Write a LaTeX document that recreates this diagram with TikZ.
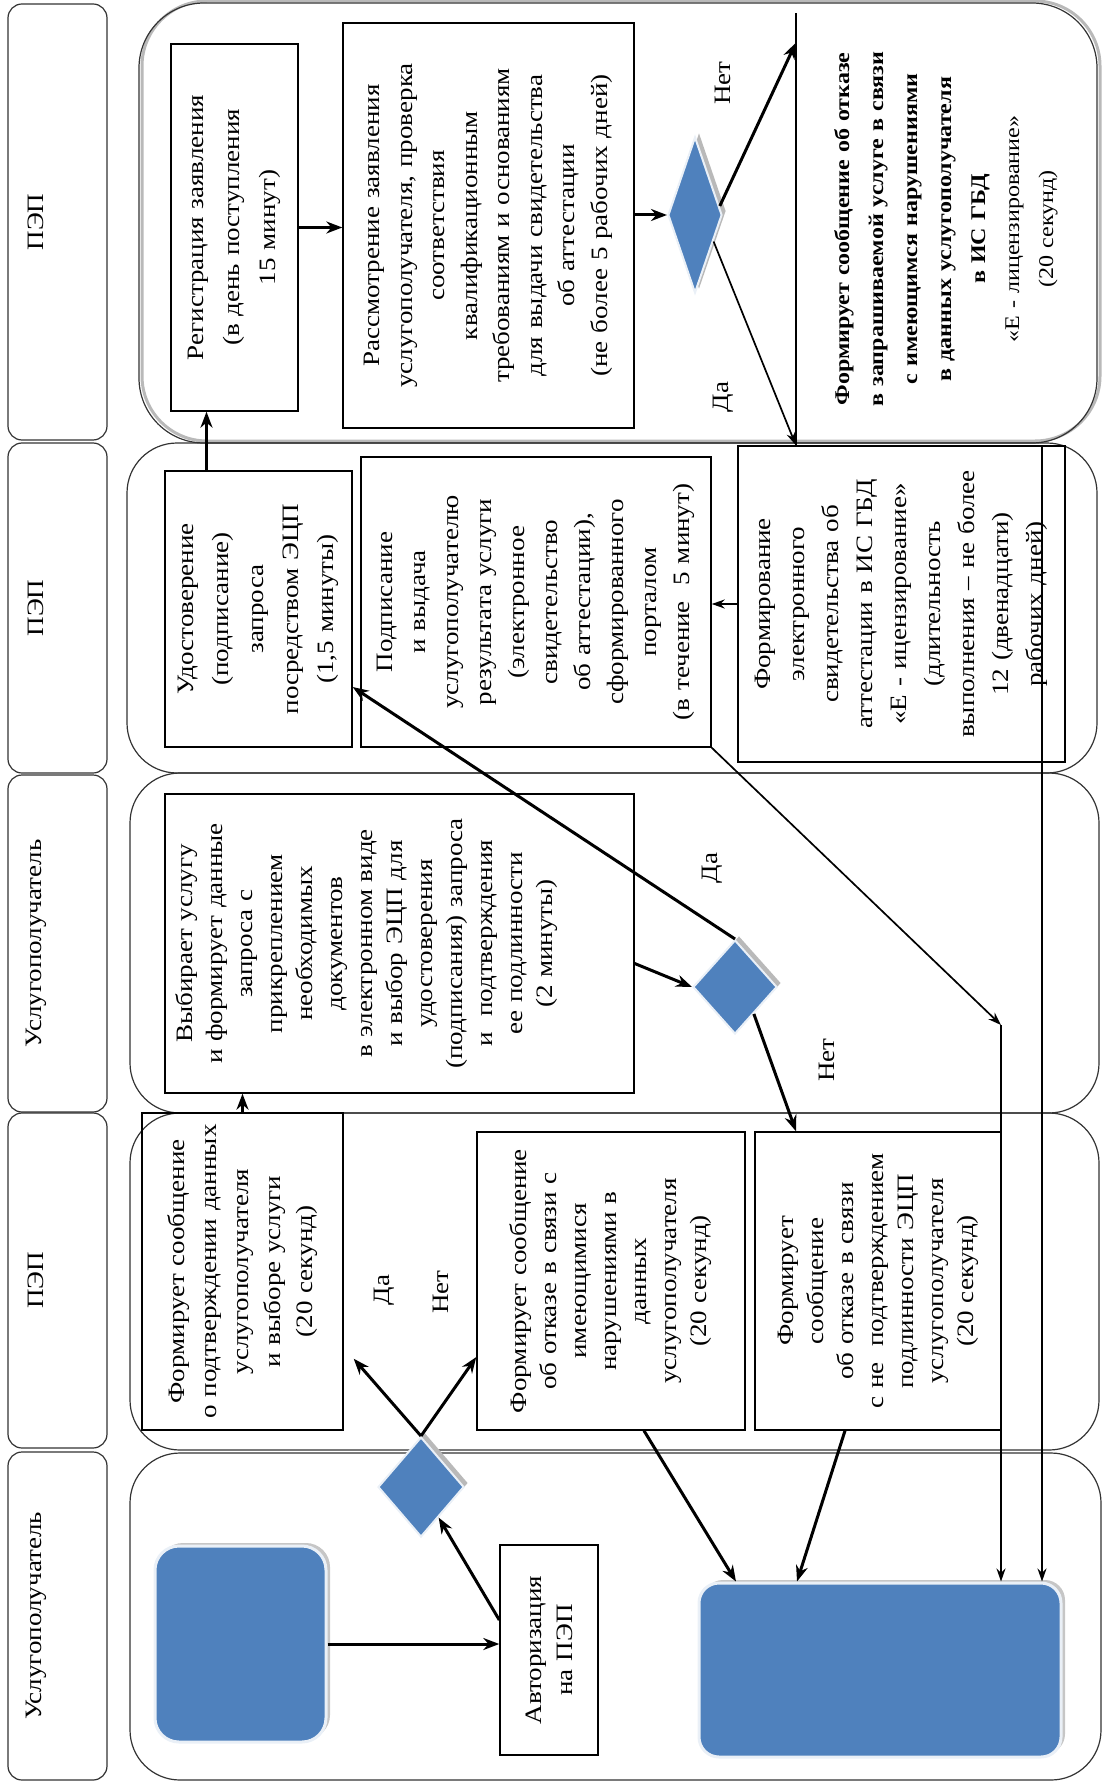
\documentclass[tikz,border=0pt]{standalone}
\usepackage{fontspec}
\setmainfont{Liberation Serif}[FakeStretch=1.15]
\usepackage{xcolor}
\usetikzlibrary{shapes.geometric, arrows.meta, shadows, calc}
\definecolor{ofblue}{HTML}{4F81BD}
\tikzset{
    lane/.style={draw=black!80, line width=1.2pt, rounded corners=50pt},
    lbox/.style={draw=black!80, line width=1.2pt, rounded corners=14pt, rotate=90, inner sep=0pt},
    box/.style={draw, line width=1.4pt, rotate=90, align=center, inner sep=2pt, font=\fontsize{23.5}{#1}\selectfont},
    box/.default=34,
    txt/.style={rotate=90, align=center, inner sep=0pt, font=\fontsize{23.5}{#1}\selectfont},
    txt/.default=34,
    lab/.style={rotate=90, inner sep=0pt, font=\fontsize{23.5}{28}\selectfont},
    dia/.style={diamond, inner sep=0pt, fill=ofblue, draw=white!88!ofblue, line width=2pt,
        drop shadow={shadow xshift=4pt, shadow yshift=4pt, fill=gray!55, opacity=1}},
    blu/.style={rounded corners=#1, fill=ofblue, draw=white!88!ofblue, line width=3pt,
        drop shadow={shadow xshift=4pt, shadow yshift=3pt, fill=gray!45, opacity=1}},
    thk/.style={line width=3pt, -{Stealth[length=16pt, width=12pt]}},
    thn/.style={line width=1.7pt, -{Stealth[length=13pt, width=9pt]}}
}

\begin{document}
\begin{tikzpicture}[x=1pt, y=-1pt]
    \useasboundingbox (0,0) rectangle (1102,1784);

    % lanes
    \draw[gray!55, line width=3pt, rounded corners=65pt] (142,1) rectangle (1100,441);
    \draw[lane, rounded corners=65pt] (139,3) rectangle (1097,443);
    \draw[lane] (127,443) rectangle (1097,773);
    \draw[lane] (130,773) rectangle (1099,1113);
    \draw[lane] (130,1113) rectangle (1099,1450);
    \draw[lane] (130,1453) rectangle (1101,1780);

    \node[lbox, minimum width=436pt, minimum height=99pt] (h1) at (57.5,222) {};
    \node[lbox, minimum width=330pt, minimum height=99pt] (h2) at (57.5,608) {};
    \node[lbox, minimum width=337pt, minimum height=99pt] (h3) at (57.5,943.5) {};
    \node[lbox, minimum width=335pt, minimum height=99pt] (h4) at (57.5,1280.5) {};
    \node[lbox, minimum width=328pt, minimum height=99pt] (h5) at (57.5,1616) {};
    \node[lab] (t1) at (36,222) {ПЭП};
    \node[lab] (t2) at (36,608) {ПЭП};
    \node[lab] (t3) at (36,943.5) {Услугополучатель};
    \node[lab] (t4) at (36,1280.5) {ПЭП};
    \node[lab] (t5) at (36,1616) {Услугополучатель};

    % steps
    \node[box=36, minimum width=367pt, minimum height=127pt, text width=355pt] (reg) at (234.5,227.5)
        {Регистрация заявления\\(в день поступления\\15 минут)};
    \node[box=32.5, minimum width=405pt, minimum height=291pt, text width=395pt] (ras) at (488.5,225.5)
        {Рассмотрение заявления\\услугополучателя, проверка\\соответствия\\квалификационным\\требованиям и основаниям\\для выдачи свидетельства\\об аттестации\\(не более 5 рабочих дней)};
    \node[dia, minimum width=54pt, minimum height=156pt] (dec1) at (695,215) {};
    \node[rotate=90, align=center, inner sep=0pt, minimum width=432pt, minimum height=300pt, text width=425pt,
        font=\fontsize{20.9}{34}\selectfont] (otk) at (946,229)
        {\textbf{Формирует сообщение об отказе}\\\textbf{в запрашиваемой услуге в связи}\\\textbf{с имеющимся нарушениями}\\\textbf{в данных услугополучателя}\\\textbf{в ИС ГБД}\\«Е - лицензирование»\\(20 секунд)};
    \draw[line width=1.4pt] (otk.north west) -- (otk.north east);

    \node[box=35, minimum width=276pt, minimum height=187pt, text width=266pt] (udo) at (258.5,609)
        {Удостоверение\\(подписание)\\запроса\\посредством ЭЦП\\(1,5 минуты)};
    \node[box=33, minimum width=290pt, minimum height=350pt, text width=280pt] (pod) at (536,602)
        {Подписание\\и выдача\\услугополучателю\\результата услуги\\(электронное\\свидетельство\\об аттестации),\\сформированного\\порталом\\(в течение~~5 минут)};
    \node[box=34, minimum width=316pt, minimum height=327pt, text width=306pt] (frm) at (901.5,604)
        {Формирование\\электронного\\свидетельства об\\аттестации в ИС ГБД\\«Е - ицензирование»\\(длительность\\выполнения – не более\\12 (двенадцати)\\рабочих дней)};

    \node[box, minimum width=299pt, minimum height=469pt] (vyb) at (399.5,943.5) {};
    \node[txt=30, text width=290pt] (vybtxt) at (367,943.5)
        {Выбирает услугу\\и формирует данные\\запроса с\\прикреплением\\необходимых\\документов\\в электронном виде\\и выбор ЭЦП для\\удостоверения\\(подписания) запроса\\и~~подтверждения\\ее подлинности\\(2 минуты)};
    \node[dia, minimum width=84pt, minimum height=94pt] (dec2) at (735,987) {};

    \node[box=32, minimum width=317pt, minimum height=201pt, text width=307pt] (msg1) at (242.5,1271.5)
        {Формирует сообщение\\о подтверждении данных\\услугополучателя\\и выборе услуги\\(20 секунд)};
    \node[box=30, minimum width=298pt, minimum height=268pt, text width=288pt] (msg2) at (611,1281)
        {Формирует сообщение\\об отказе в связи с\\имеющимися\\нарушениями в\\данных\\услугополучателя\\(20 секунд)};
    \node[box=30, minimum width=298pt, minimum height=246pt, text width=288pt] (msg3) at (878,1281)
        {Формирует\\сообщение\\об отказе в связи\\с не~~подтверждением\\подлинности ЭЦП\\услугополучателя\\(20 секунд)};
    \node[dia, minimum width=86pt, minimum height=100pt] (dec3) at (421,1487) {};

    \node[blu=24pt, minimum width=171pt, minimum height=196pt] (start) at (240.5,1644) {};
    \node[box=31, minimum width=210pt, minimum height=98pt, text width=200pt] (auth) at (549,1650)
        {Авторизация\\на ПЭП};
    \node[blu=20pt, minimum width=362pt, minimum height=174pt] (endbox) at (880,1670) {};

    \coordinate (bend) at (1001,1025);

    % labels
    \node[lab] (net1) at (723,83) {Нет};
    \node[lab] (da1) at (723,397) {Да};
    \node[lab] (da2) at (712,868) {Да};
    \node[lab] (net2) at (827,1060) {Нет};
    \node[lab] (da3) at (384,1290) {Да};
    \node[lab] (net3) at (441,1292) {Нет};

    % connectors
    \draw[thk] (start.east) -- (start.east -| auth.north);
    \draw[thk] ([yshift=30pt]auth.north) -- (dec3.-60);
    \draw[thk] (dec3.north) -- ([shift={(10pt,72pt)}]msg1.south west);
    \draw[thk] (dec3.north) -- ([yshift=-76pt]msg2.north);
    \draw[thk] (msg1.east) -- (msg1.east |- vyb.west);
    \draw[thk] ([yshift=-20pt]vyb.south) -- (dec2.west);
    \draw[thk] (dec2.north) -- ([yshift=-78pt]udo.south);
    \draw[thk] (dec2.-55) -- ([xshift=-82pt]msg3.east);
    \draw[thk] ([xshift=-52pt]udo.east) -- ([xshift=-52pt]udo.east |- reg.west);
    \draw[thk] (reg.south) -- (reg.south -| ras.north);
    \draw[thk] (ras.south |- dec1.west) -- (dec1.west);
    \draw[thk] (dec1.20) -- ([yshift=-30pt]otk.north east);
    \draw[thn] (dec1.-55) -- (otk.north west);
    \draw[thn] (frm.north) -- (frm.north -| pod.south);
    \draw[thn] (pod.south west) -- (bend);
    \draw[thn] (bend) -- (bend |- endbox.north);
    \draw[thn] ([xshift=96pt]otk.west) -- ([xshift=96pt]otk.west |- endbox.north);
    \draw[thk] ([xshift=33pt]msg2.west) -- ([xshift=-144pt]endbox.north);
    \draw[thk] ([xshift=-33pt]msg3.west) -- ([xshift=-83pt]endbox.north);
\end{tikzpicture}
\end{document}
